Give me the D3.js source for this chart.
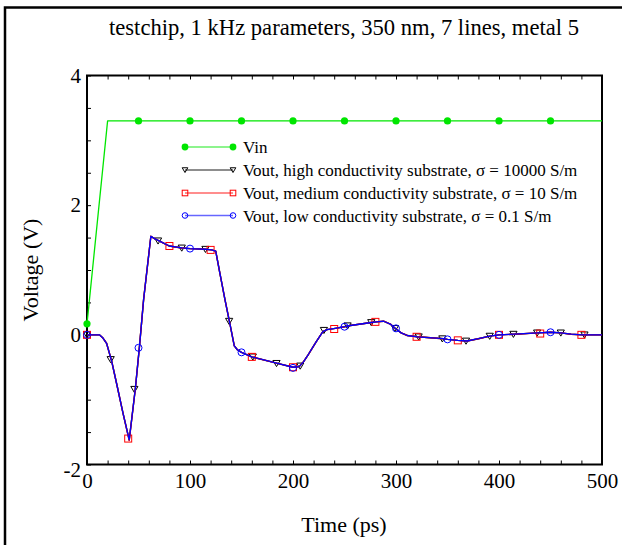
<!DOCTYPE html>
<html>
<head>
<meta charset="utf-8">
<script src="https://cdn.jsdelivr.net/npm/d3@7"></script>
<style>
  body { margin: 0; background: #fff; }
  svg { display: block; }
  text { font-family: "Liberation Serif", "Times New Roman", serif; fill: #000; }
</style>
</head>
<body>
<svg id="chart" width="622" height="545"></svg>
<script>
// ---- axes ----
const timeTicks = d3.range(0, 501, 20);
const timeLabels = [0, 100, 200, 300, 400, 500];
const voltTicks = d3.range(-2, 4.001, 0.5);
const voltLabels = [-2, 0, 2, 4];

// ---- input step ----
const vinTime  = [0, 20, 500];
const vinValue = [0.17, 3.3, 3.3];
const vinMarkTime  = [0, 50, 100, 150, 200, 250, 300, 350, 400, 450];
const vinMarkValue = [0.17, 3.3, 3.3, 3.3, 3.3, 3.3, 3.3, 3.3, 3.3, 3.3];

// ---- output waveforms (ps, V) ----
const outTime = [0, 12, 15, 19, 24, 29, 35, 41, 47, 51, 55, 62, 66, 70, 80, 92, 100, 115, 121, 125,
  129, 134, 139, 143, 146, 150, 160, 185, 200, 206, 210, 215, 222, 229, 233, 241, 250, 254, 276, 281,
  288, 295, 300, 305, 311, 321, 346, 350, 360, 369, 380, 391, 400, 415, 438, 450, 460, 470, 481, 500];
const outHigh = [0, 0, -0.04, -0.13, -0.41, -0.77, -1.21, -1.62, -0.82, -0.17, 0.55, 1.52, 1.48, 1.45, 1.37, 1.34, 1.33, 1.32, 1.31, 1.29,
  0.95, 0.54, 0.15, -0.17, -0.23, -0.27, -0.34, -0.44, -0.50, -0.49, -0.42, -0.30, -0.12, 0.05, 0.08, 0.10, 0.125, 0.14, 0.19, 0.20,
  0.21, 0.16, 0.09, 0.03, -0.01, -0.03, -0.06, -0.07, -0.085, -0.095, -0.06, -0.02, 0.0, 0.01, 0.03, 0.04, 0.03, 0.01, 0.0, 0.0];
const outMed = [0, 0, -0.04, -0.13, -0.41, -0.77, -1.21, -1.63, -0.82, -0.17, 0.55, 1.52, 1.48, 1.45, 1.37, 1.34, 1.33, 1.32, 1.31, 1.29,
  0.95, 0.54, 0.15, -0.17, -0.23, -0.27, -0.34, -0.44, -0.50, -0.49, -0.42, -0.30, -0.12, 0.05, 0.08, 0.10, 0.125, 0.14, 0.19, 0.20,
  0.21, 0.16, 0.09, 0.03, -0.01, -0.03, -0.06, -0.07, -0.085, -0.095, -0.06, -0.02, 0.0, 0.01, 0.03, 0.04, 0.03, 0.01, 0.0, 0.0];
const outLow = [0, 0, -0.04, -0.13, -0.41, -0.77, -1.21, -1.62, -0.82, -0.17, 0.55, 1.52, 1.48, 1.45, 1.37, 1.34, 1.33, 1.32, 1.31, 1.29,
  0.95, 0.54, 0.15, -0.17, -0.23, -0.27, -0.34, -0.44, -0.50, -0.49, -0.42, -0.30, -0.12, 0.05, 0.08, 0.10, 0.125, 0.14, 0.19, 0.20,
  0.21, 0.16, 0.09, 0.03, -0.01, -0.03, -0.06, -0.07, -0.085, -0.095, -0.06, -0.02, 0.0, 0.01, 0.03, 0.04, 0.03, 0.01, 0.0, 0.0];

// marker samples for each output
const highMarkTime  = [0, 23, 46, 69, 92, 115, 138, 161, 184, 207, 230, 253, 276, 299, 322, 345, 368, 391, 414, 437, 460, 483];
const highMarkValue = [0, -0.38, -0.84, 1.45, 1.34, 1.32, 0.21, -0.34, -0.44, -0.48, 0.07, 0.14, 0.19, 0.10, -0.03, -0.06, -0.095, -0.02, 0.01, 0.03, 0.03, 0.0];
const medMarkTime  = [0, 40, 80, 120, 160, 200, 240, 280, 320, 360, 400, 440, 480];
const medMarkValue = [0, -1.60, 1.37, 1.31, -0.34, -0.50, 0.09, 0.20, -0.03, -0.085, 0.0, 0.02, 0.0];
const lowMarkTime  = [0, 50, 100, 150, 200, 250, 300, 350, 400, 450];
const lowMarkValue = [0, -0.20, 1.33, -0.27, -0.51, 0.125, 0.10, -0.07, 0.0, 0.04];

const legendLabels = [
  "Vin",
  "Vout, high conductivity substrate, \u03c3 = 10000 S/m",
  "Vout, medium conductivity substrate, \u03c3 = 10 S/m",
  "Vout, low conductivity substrate, \u03c3 = 0.1 S/m"
];

// ---- drawing ----
const svg = d3.select("#chart");
const x = d3.scaleLinear().domain([0, 500]).range([87, 602]);
const y = d3.scaleLinear().domain([-2, 4]).range([464.5, 75.5]);

// outer frame (left and top edges)
svg.append("path").attr("d", "M5,545 V7.5 H622")
  .attr("fill", "none").attr("stroke", "#000").attr("stroke-width", 2.5);

svg.append("text").attr("x", 344).attr("y", 35).attr("text-anchor", "middle")
  .style("font-size", "22.6px").text("testchip, 1 kHz parameters, 350 nm, 7 lines, metal 5");

// axes
const fmtX = d => timeLabels.includes(d) ? String(d) : "";
const fmtY = d => voltLabels.includes(d) ? String(d) : "";

const gx = svg.append("g").attr("transform", `translate(0,${y(-2)})`)
  .call(d3.axisBottom(x).tickValues(timeTicks).tickSize(-4).tickPadding(9).tickFormat(fmtX));
const gxTop = svg.append("g").attr("transform", `translate(0,${y(4)})`)
  .call(d3.axisTop(x).tickValues(timeTicks).tickSize(-4).tickFormat(""));
const gy = svg.append("g").attr("transform", `translate(${x(0)},0)`)
  .call(d3.axisLeft(y).tickValues(voltTicks).tickSize(-4).tickPadding(6).tickFormat(fmtY));

[gx, gxTop, gy].forEach(g => {
  g.select(".domain").remove();
  g.selectAll(".tick line").attr("stroke", "#000").attr("stroke-width", 1);
  g.selectAll("text").style("font-size", "21px").attr("fill", "#000")
    .style("font-family", "'Liberation Serif','Times New Roman',serif");
});
// bottom voltage label sits lower, clear of the time origin label
gy.selectAll(".tick").filter(d => d === -2).select("text").attr("dy", "0.55em");

svg.append("rect").attr("x", x(0)).attr("y", y(4))
  .attr("width", x(500) - x(0)).attr("height", y(-2) - y(4))
  .attr("fill", "none").attr("stroke", "#000").attr("stroke-width", 2);

svg.append("text").attr("x", 344).attr("y", 532).attr("text-anchor", "middle")
  .style("font-size", "22px").text("Time (ps)");
svg.append("text").attr("transform", `translate(38,${(y(4) + y(-2)) / 2}) rotate(-90)`)
  .attr("text-anchor", "middle").style("font-size", "22px").text("Voltage (V)");

// series
const plot = svg.append("g");
const line = d3.line().x(d => x(d[0])).y(d => y(d[1]));
const zipPts = (ts, vs) => ts.map((t, i) => [t, vs[i]]);

const green = "#00e600";
const triPath = (cx, cy, s) => `M${cx - s},${cy - s * 0.8} L${cx + s},${cy - s * 0.8} L${cx},${cy + s * 0.9} Z`;

function drawMarkers(g, pts, kind, color, s) {
  const sel = g.selectAll(null).data(pts).enter();
  if (kind === "dot") {
    sel.append("circle").attr("cx", d => x(d[0])).attr("cy", d => y(d[1])).attr("r", s)
      .attr("fill", color).attr("stroke", "none");
  } else if (kind === "circle") {
    sel.append("circle").attr("cx", d => x(d[0])).attr("cy", d => y(d[1])).attr("r", s)
      .attr("fill", "none").attr("stroke", color).attr("stroke-width", 1);
  } else if (kind === "square") {
    sel.append("rect").attr("x", d => x(d[0]) - s).attr("y", d => y(d[1]) - s)
      .attr("width", 2 * s).attr("height", 2 * s)
      .attr("fill", "none").attr("stroke", color).attr("stroke-width", 1);
  } else {
    sel.append("path").attr("d", d => triPath(x(d[0]), y(d[1]), s))
      .attr("fill", "none").attr("stroke", color).attr("stroke-width", 1);
  }
}

const series = [
  { line: zipPts(vinTime, vinValue), marks: zipPts(vinMarkTime, vinMarkValue), color: green, kind: "dot", size: 3.6, w: 1.3 },
  { line: zipPts(outTime, outHigh), marks: zipPts(highMarkTime, highMarkValue), color: "#000", kind: "tri", size: 3.6, w: 1.4 },
  { line: zipPts(outTime, outMed), marks: zipPts(medMarkTime, medMarkValue), color: "#ff0000", kind: "square", size: 3.5, w: 1.4 },
  { line: zipPts(outTime, outLow), marks: zipPts(lowMarkTime, lowMarkValue), color: "#0000ff", kind: "circle", size: 3.5, w: 1.3 }
];

series.forEach(s => {
  plot.append("path").attr("d", line(s.line)).attr("fill", "none")
    .attr("stroke", s.color).attr("stroke-width", s.w).attr("stroke-linejoin", "round");
  drawMarkers(plot, s.marks, s.kind, s.color, s.size);
});

// legend
const legend = svg.append("g");
const rowY = [147, 170, 193, 215.5];
series.forEach((s, i) => {
  const yy = rowY[i];
  legend.append("line").attr("x1", 185).attr("x2", 233).attr("y1", yy).attr("y2", yy)
    .attr("stroke", s.color).attr("stroke-opacity", 0.6).attr("stroke-width", 1.6);
  const pts = [185, 233].map(px => [x.invert(px), y.invert(yy)]);
  drawMarkers(legend, pts, s.kind, s.color, s.kind === "dot" ? 3.4 : 2.8);
  legend.append("text").attr("x", 243).attr("y", yy + 6)
    .style("font-size", "17px").text(legendLabels[i]);
});
</script>
</body>
</html>
